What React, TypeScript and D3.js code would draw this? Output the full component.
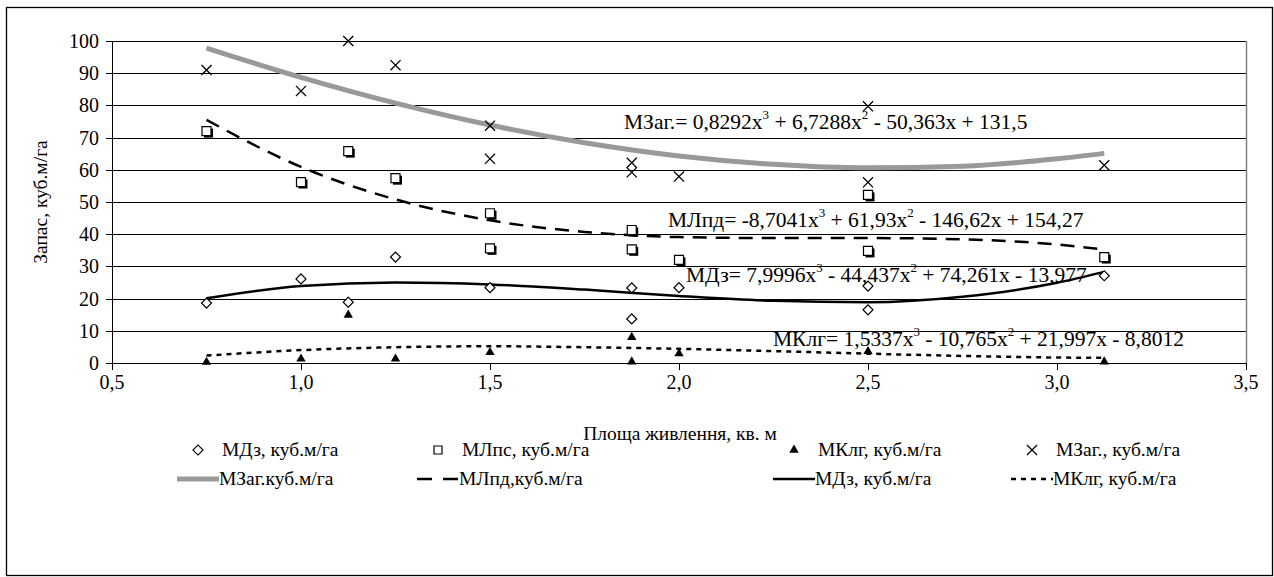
import React from 'react';
import * as d3 from 'd3';

// scatter points (x = площа живлення, y = запас)
const mdzX = [0.75, 1.0, 1.125, 1.25, 1.5, 1.875, 1.875, 2.0, 2.5, 2.5, 3.125];
const mdzY = [18.6, 26.1, 18.9, 32.9, 23.4, 23.3, 13.7, 23.4, 23.9, 16.5, 27.1];

const mlpsX = [0.75, 1.0, 1.125, 1.25, 1.5, 1.5, 1.875, 1.875, 2.0, 2.5, 2.5, 3.125];
const mlpsY = [72, 56.2, 65.8, 57.4, 46.5, 35.6, 41.3, 35.3, 32, 52.2, 34.8, 32.9];

const mklgX = [0.75, 1.0, 1.125, 1.25, 1.5, 1.875, 1.875, 2.0, 2.5, 3.125];
const mklgY = [0.3, 1.3, 14.9, 1.3, 3.3, 8, 0.4, 2.9, 3.6, 0.4];

const mzagX = [0.75, 1.0, 1.125, 1.25, 1.5, 1.5, 1.875, 1.875, 2.0, 2.5, 2.5, 3.125];
const mzagY = [91, 84.5, 100, 92.5, 73.7, 63.4, 62.2, 59.2, 57.9, 79.7, 56.1, 61.4];

// trend lines
const trendX = [0.75, 1.0, 1.25, 1.5, 1.75, 2.0, 2.25, 2.5, 2.75, 3.0, 3.125];
const trendZag = [97.8, 88.7, 80.7, 73.9, 68.4, 64.3, 61.7, 60.6, 61.1, 63.4, 65.1];
const trendLpd = [75.5, 60.9, 50.8, 44.3, 40.7, 39.1, 38.8, 38.8, 38.4, 36.8, 35.2];
const trendDz = [20.1, 23.9, 25.0, 24.4, 22.8, 20.8, 19.3, 18.9, 20.6, 24.9, 28.3];
const trendKlg = [2.3, 4.0, 4.9, 5.2, 4.9, 4.4, 3.7, 2.9, 2.2, 1.7, 1.6];

const xTicks = [0.5, 1.0, 1.5, 2.0, 2.5, 3.0, 3.5];
const yTicks = [0, 10, 20, 30, 40, 50, 60, 70, 80, 90, 100];

const equations = [
  ['МЗаг.= 0,8292x', '3', ' + 6,7288x', '2', ' - 50,363x + 131,5'],
  ['МЛпд= -8,7041x', '3', ' + 61,93x', '2', ' - 146,62x + 154,27'],
  ['МДз= 7,9996x', '3', ' - 44,437x', '2', ' + 74,261x - 13,977'],
  ['МКлг= 1,5337x', '3', ' - 10,765x', '2', ' + 21,997x - 8,8012'],
];

const legendLabels = [
  'МДз, куб.м/га', 'МЛпс, куб.м/га', 'МКлг, куб.м/га', 'МЗаг., куб.м/га',
  'МЗаг.куб.м/га', 'МЛпд,куб.м/га', 'МДз, куб.м/га', 'МКлг, куб.м/га',
];

const FONT = 'Liberation Serif';

const x = d3.scaleLinear().domain([0.5, 3.5]).range([112, 1246]);
const y = d3.scaleLinear().domain([0, 100]).range([363, 41]);

const line = d3.line<number>().x((d, i) => x(trendX[i])).y(d => y(d)).curve(d3.curveMonotoneX);
const trendStyles = [
  { data: trendZag, color: '#999', w: 5, dash: undefined, legDash: undefined },
  { data: trendLpd, color: '#000', w: 2.5, dash: '14,9', legDash: '15,11' },
  { data: trendDz, color: '#000', w: 2.5, dash: undefined, legDash: undefined },
  { data: trendKlg, color: '#000', w: 2.5, dash: '5,5', legDash: '5,5' },
];

const diamondD = d3.symbol(d3.symbolSquare, 50)();
const squareD = d3.symbol(d3.symbolSquare, 81)();
const legSquareD = d3.symbol(d3.symbolSquare, 64)();
const triD = d3.symbol(d3.symbolTriangle, 38)();
const crossD = d3.symbol(d3.symbolTimes, 68)();

const Diamond = ({ cx, cy }) => (
  <path d={diamondD} transform={`translate(${cx},${cy}) rotate(45)`} fill="#fff" stroke="#000" strokeWidth={1.2} />
);
const Square = ({ cx, cy }) => (
  <g>
    <path d={squareD} transform={`translate(${cx + 2},${cy + 2})`} fill="#000" />
    <path d={squareD} transform={`translate(${cx},${cy})`} fill="#fff" stroke="#000" strokeWidth={1.2} />
  </g>
);
const Tri = ({ cx, cy }) => <path d={triD} transform={`translate(${cx},${cy})`} fill="#000" />;
const Cross = ({ cx, cy }) => (
  <path d={crossD} transform={`translate(${cx},${cy})`} fill="none" stroke="#000" strokeWidth={1.3} />
);

const eqPos = [[624, 129], [668, 227], [686, 282], [773, 346]];
const legText = [222, 462, 818, 1056];
const legY = [450, 479];
const mk = legText.map(t => t - 24);

export default function App() {
  return (
    <svg width={1274} height={577} style={{ position: 'absolute', left: 0, top: 0, background: '#fff' }}>
      <rect x={6.5} y={7.5} width={1266} height={568} fill="#fff" stroke="#000" strokeWidth={1.3} />

      {yTicks.map(d => (
        <line key={'g' + d} x1={106} x2={1246} y1={Math.round(y(d)) + 0.5} y2={Math.round(y(d)) + 0.5} stroke="#000" />
      ))}
      <line x1={1246.5} x2={1246.5} y1={y(100)} y2={y(0)} stroke="#808080" strokeWidth={1.5} />
      <line x1={112.5} x2={112.5} y1={y(100)} y2={y(0)} stroke="#000" />

      {xTicks.map(d => (
        <g key={'x' + d}>
          <line x1={Math.round(x(d)) + 0.5} x2={Math.round(x(d)) + 0.5} y1={y(0)} y2={y(0) + 7} stroke="#000" />
          <text x={x(d)} y={389} textAnchor="middle" fontFamily={FONT} fontSize={20}>
            {d3.format('.1f')(d).replace('.', ',')}
          </text>
        </g>
      ))}
      {yTicks.map(d => (
        <text key={'y' + d} x={99} y={y(d) + 7} textAnchor="end" fontFamily={FONT} fontSize={20}>{d}</text>
      ))}

      <text x={680} y={440} textAnchor="middle" fontFamily={FONT} fontSize={19.5}>Площа живлення, кв. м</text>
      <text transform={`translate(47,${(y(0) + y(100)) / 2}) rotate(-90)`} textAnchor="middle" fontFamily={FONT} fontSize={19.5}>
        Запас, куб.м/га
      </text>

      {trendStyles.map((s, i) => (
        <path key={'t' + i} d={line(s.data)} fill="none" stroke={s.color} strokeWidth={s.w} strokeDasharray={s.dash} />
      ))}

      {mdzX.map((d, i) => <Diamond key={'d' + i} cx={x(d)} cy={y(mdzY[i])} />)}
      {mlpsX.map((d, i) => <Square key={'s' + i} cx={x(d)} cy={y(mlpsY[i])} />)}
      {mklgX.map((d, i) => <Tri key={'k' + i} cx={x(d)} cy={y(mklgY[i])} />)}
      {mzagX.map((d, i) => <Cross key={'z' + i} cx={x(d)} cy={y(mzagY[i])} />)}

      {equations.map((parts, k) => (
        <text key={'e' + k} x={eqPos[k][0]} y={eqPos[k][1]} fontFamily={FONT} fontSize={21.5}>
          {parts.map((p, j) => (
            <tspan key={j}
              fontSize={j === 1 || j === 3 ? 13 : undefined}
              dy={j === 1 || j === 3 ? -10 : j > 0 ? 10 : undefined}>{p}</tspan>
          ))}
        </text>
      ))}

      {legendLabels.map((label, i) => {
        const col = i % 4;
        const row = Math.floor(i / 4);
        return (
          <text key={'l' + i} x={legText[col] - row * 3} y={legY[row] + 6} fontFamily={FONT} fontSize={19.5}>{label}</text>
        );
      })}
      <Diamond cx={mk[0]} cy={legY[0]} />
      <path d={legSquareD} transform={`translate(${mk[1]},${legY[0]})`} fill="#fff" stroke="#000" strokeWidth={1.2} />
      <Tri cx={mk[2]} cy={legY[0]} />
      <Cross cx={mk[3]} cy={legY[0]} />
      {trendStyles.map((s, col) => (
        <line key={'ll' + col} x1={mk[col] - 21} x2={mk[col] + 21} y1={legY[1]} y2={legY[1]}
          stroke={s.color} strokeWidth={s.w} strokeDasharray={s.legDash} />
      ))}
    </svg>
  );
}
